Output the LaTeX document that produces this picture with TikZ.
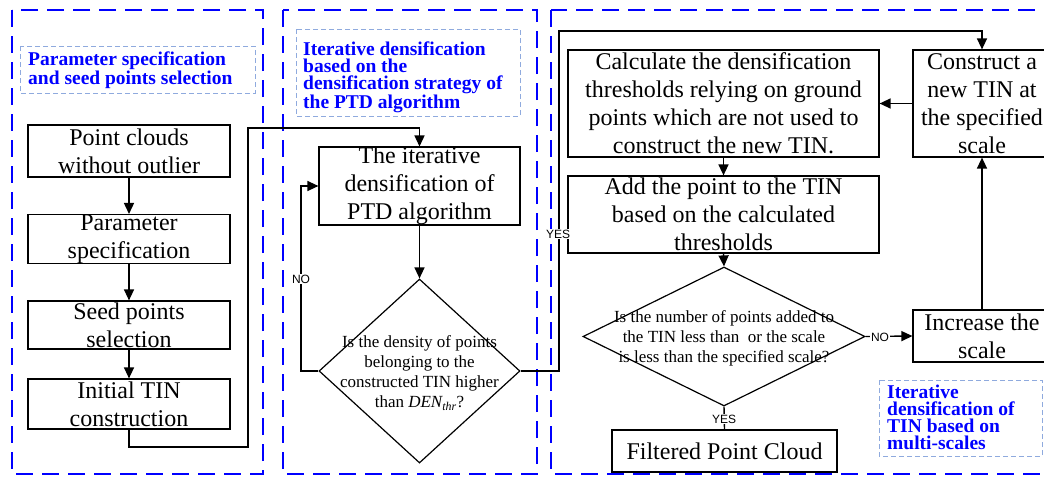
\documentclass[tikz,border=0pt]{standalone}
\usepackage{fontspec}
\setmainfont{Liberation Serif}
\newfontfamily\tagfont{Liberation Sans}
\usetikzlibrary{shapes.geometric,arrows.meta}

\tikzset{
  x=1pt, y=-1pt,
  stage/.style={draw=blue, line width=2.6pt, dash pattern=on 17pt off 9pt},
  caption/.style={draw=cyan!45!blue!45, line width=0.9pt, dash pattern=on 5pt off 3pt},
  captext/.style={anchor=north west, inner sep=0pt, align=left, text=blue,
    font=\fontsize{19.5}{16.8}\selectfont\bfseries},
  box/.style={draw, line width=1.2pt, rectangle, inner sep=0pt, align=center,
    font=\fontsize{24}{28}\selectfont},
  decision/.style={draw, line width=1.2pt, diamond, inner sep=0pt},
  dtext/.style={align=center, inner sep=0pt, font=\fontsize{17}{20}\selectfont},
  flow/.style={line width=1.4pt, -{Triangle[length=11pt,width=10pt]}},
  plain/.style={line width=1.4pt},
  answer/.style={fill=white, inner sep=1pt, font=\tagfont\fontsize{12}{12}\selectfont},
}

\begin{document}
\begin{tikzpicture}
\useasboundingbox (0,0) rectangle (1044,477);
\clip (0,0) rectangle (1044,477);

% three stages
\draw[stage] (12,10) rectangle (263,474);
\draw[stage] (283,10) rectangle (537,474);
\draw[stage] (551,10) rectangle (1070,474);

% stage captions
\draw[caption] (20,46) rectangle (255,93);
\node[captext] (cap1) at (28,52) {Parameter specification\\and seed points selection};
\draw[caption] (296,29) rectangle (520,116);
\node[captext] (cap2) at (303,42) {Iterative densification\\based on the\\densification strategy of\\the PTD algorithm};
\draw[caption] (879,380) rectangle (1042,456);
\node[captext] (cap3) at (887,385) {Iterative\\densification of\\TIN based on\\multi-scales};

% stage 1
\node[box, minimum width=202pt, minimum height=52pt] (pc) at (129,151) {Point clouds\\without outlier};
\node[box, minimum width=202pt, minimum height=48pt] (ps) at (129,239) {Parameter\\specification};
\node[box, minimum width=202pt, minimum height=48pt] (sp) at (129,325) {Seed points\\selection};
\node[box, minimum width=202pt, minimum height=50pt] (it) at (129,404) {Initial TIN\\construction};

% stage 2
\node[box, minimum width=201pt, minimum height=76pt] (ptd) at (419.5,186) {The iterative\\densification of\\PTD algorithm};
\node[decision, minimum width=201pt, minimum height=184pt] (d1) at (419.5,371) {};
\node[dtext] (d1t) at (419.5,373) {Is the density of points\\belonging to the\\constructed TIN higher\\than {\itshape DEN\textsubscript{thr}}?};

% stage 3
\node[box, minimum width=311pt, minimum height=107pt] (calc) at (723.5,103.5) {Calculate the densification\\thresholds relying on ground\\points which are not used to\\construct the new TIN.};
\node[box, minimum width=138pt, minimum height=107pt] (con) at (982,103.5) {Construct a\\new TIN at\\the specified\\scale};
\node[box, minimum width=311pt, minimum height=77pt] (add) at (723.5,214.5) {Add the point to the TIN\\based on the calculated\\thresholds};
\node[decision, minimum width=282pt, minimum height=139pt] (d2) at (724,336.5) {};
\node[dtext] (d2t) at (724,338) {Is the number of points added to\\the TIN less than~ or the scale\\is less than the specified scale?};
\node[box, minimum width=138pt, minimum height=52pt] (inc) at (982,336) {Increase the\\scale};
\node[box, minimum width=225pt, minimum height=42pt] (out) at (724.5,451) {Filtered Point Cloud};

% bend points
\coordinate (j1) at (248,447);
\coordinate (j2) at (248,128);
\coordinate (j3) at (301,371);
\coordinate (j4) at (559,31);

% connectors
\draw[flow] (pc.south) -- (ps.north);
\draw[flow] (ps.south) -- (sp.north);
\draw[flow] (sp.south) -- (it.north);
\draw[flow] (it.south) |- (j1) -- (j2) -| (ptd.north);
\draw[flow] (ptd.south) -- (d1.north);
\draw[flow] (d1.west) -- (j3) |- (ptd.west);
\node[answer] (no1) at (301,279) {NO};
\draw[flow] (d1.east) -| (j4) -| (con.north);
\node[answer] (yes1) at (558,234) {YES};
\draw[flow] (con.west) -- (calc.east);
\draw[flow] (calc.south) -- (add.north);
\draw[flow] (add.south) -- (d2.north);
\draw[flow] (d2.east) -- (inc.west);
\node[answer] (no2) at (880,337) {NO};
\draw[flow] (inc.north) -- (con.south);
\draw[plain] (d2.south) -- (out.north);
\node[answer] (yes2) at (724,419) {YES};
\end{tikzpicture}
\end{document}
